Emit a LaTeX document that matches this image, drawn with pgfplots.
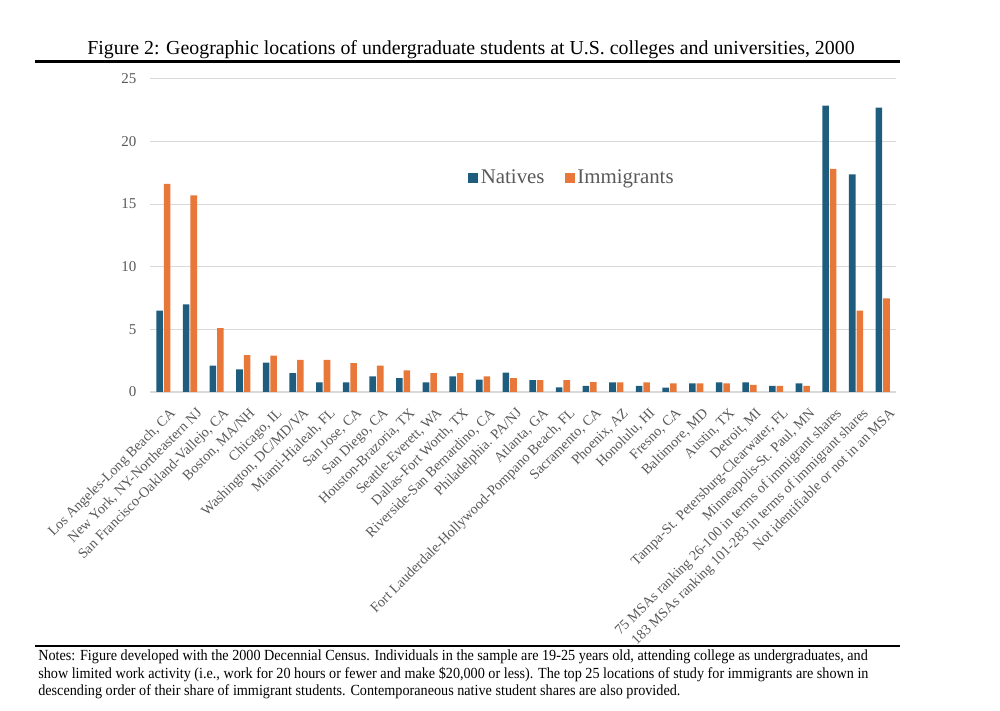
\documentclass[border=0pt]{standalone}
\usepackage{fontspec}
\setmainfont{Liberation Serif}
\newfontfamily\notesfont[FakeStretch=0.92]{Liberation Serif}
\usepackage{pgfplots}
\pgfplotsset{compat=1.18}
\usepackage{pgfplotstable}
\definecolor{nat}{HTML}{1F5D7E}
\definecolor{imm}{HTML}{E8773A}
\definecolor{txt}{HTML}{595959}
\definecolor{grd}{HTML}{D9D9D9}

\pgfplotstableread{
idx nat imm
0 6.5 16.6
1 7.0 15.7
2 2.1 5.1
3 1.8 2.95
4 2.35 2.9
5 1.5 2.57
6 0.77 2.57
7 0.77 2.3
8 1.24 2.1
9 1.1 1.72
10 0.77 1.5
11 1.24 1.5
12 0.98 1.24
13 1.55 1.1
14 0.95 0.95
15 0.37 0.95
16 0.48 0.79
17 0.77 0.77
18 0.48 0.77
19 0.34 0.69
20 0.69 0.69
21 0.77 0.69
22 0.77 0.56
23 0.48 0.48
24 0.69 0.48
25 22.85 17.8
26 17.37 6.49
27 22.7 7.48
}\data

\begin{document}
\begin{tikzpicture}
\path[use as bounding box] (0,0) rectangle (700pt,497pt);
\node[font=\fontsize{13.9}{16}\selectfont, inner sep=0, anchor=base] at (329.7pt,458.5pt) {Figure 2: Geographic locations of undergraduate students at U.S. colleges and universities, 2000};
\draw[line width=2.1pt] (24.5pt,453.6pt) -- (630pt,453.6pt);
\begin{axis}[
  at={(105pt,222.6pt)}, anchor=south west,
  scale only axis, width=522.2pt, height=219.3pt,
  ybar=0.7pt, bar width=4.6pt,
  xmin=-0.5, xmax=27.5, ymin=0, ymax=25,
  ytick={0,5,10,15,20,25},
  xtick=data,
  xticklabels={{Los Angeles-Long Beach, CA},{New York, NY-Northeastern NJ},{San Francisco-Oakland-Vallejo, CA},{Boston, MA/NH},{Chicago, IL},{Washington, DC/MD/VA},{Miami-Hialeah, FL},{San Jose, CA},{San Diego, CA},{Houston-Brazoria, TX},{Seattle-Everett, WA},{Dallas-Fort Worth, TX},{Riverside-San Bernardino, CA},{Philadelphia. PA/NJ},{Atlanta, GA},{Fort Lauderdale-Hollywood-Pompano Beach, FL},{Sacramento, CA},{Phoenix, AZ},{Honolulu, HI},{Fresno, CA},{Baltimore, MD},{Austin, TX},{Detroit, MI},{Tampa-St. Petersburg-Clearwater, FL},{Minneapolis-St. Paul, MN},{75 MSAs ranking 26-100 in terms of immigrant shares},{183 MSAs ranking 101-283 in terms of immigrant shares},{Not identifiable or not in an MSA}},
  xticklabel style={rotate=45, anchor=north east, font=\fontsize{10.0}{12}\selectfont, text=txt, inner sep=1pt, yshift=-9pt, xshift=-3.5pt},
  yticklabel style={font=\fontsize{10.5}{12}\selectfont, text=txt, xshift=-6pt},
  /pgf/number format/assume math mode=true,
  major tick length=0pt,
  ymajorgrids, grid style={grd, line width=0.6pt},
  axis x line*=bottom, axis y line*=left,
  x axis line style={grd, line width=0.8pt, -},
  y axis line style={draw=none},
  legend style={at={(0.566,0.683)}, anchor=center, draw=none, fill=none, legend columns=2, font=\fontsize{14.6}{16}\selectfont, text=txt, /tikz/every even column/.append style={column sep=12pt}},
  legend image code/.code={\fill[#1] (-5pt,-3.5pt) rectangle (2pt,3.5pt);},
]
\addplot[fill=nat, draw=none] table[x=idx, y=nat] {\data};
\addplot[fill=imm, draw=none] table[x=idx, y=imm] {\data};
\legend{Natives, Immigrants}
\end{axis}
\draw[line width=1.4pt] (24.5pt,44.8pt) -- (630pt,44.8pt);
\node[anchor=north west, align=left, font=\notesfont\fontsize{10.8}{12.1}\selectfont, inner sep=0] at (26.6pt,42pt) {Notes: Figure developed with the 2000 Decennial Census. Individuals in the sample are 19-25 years old, attending college as undergraduates, and\\show limited work activity (i.e., work for 20 hours or fewer and make \$20,000 or less). The top 25 locations of study for immigrants are shown in\\descending order of their share of immigrant students. Contemporaneous native student shares are also provided.};
\end{tikzpicture}
\end{document}
